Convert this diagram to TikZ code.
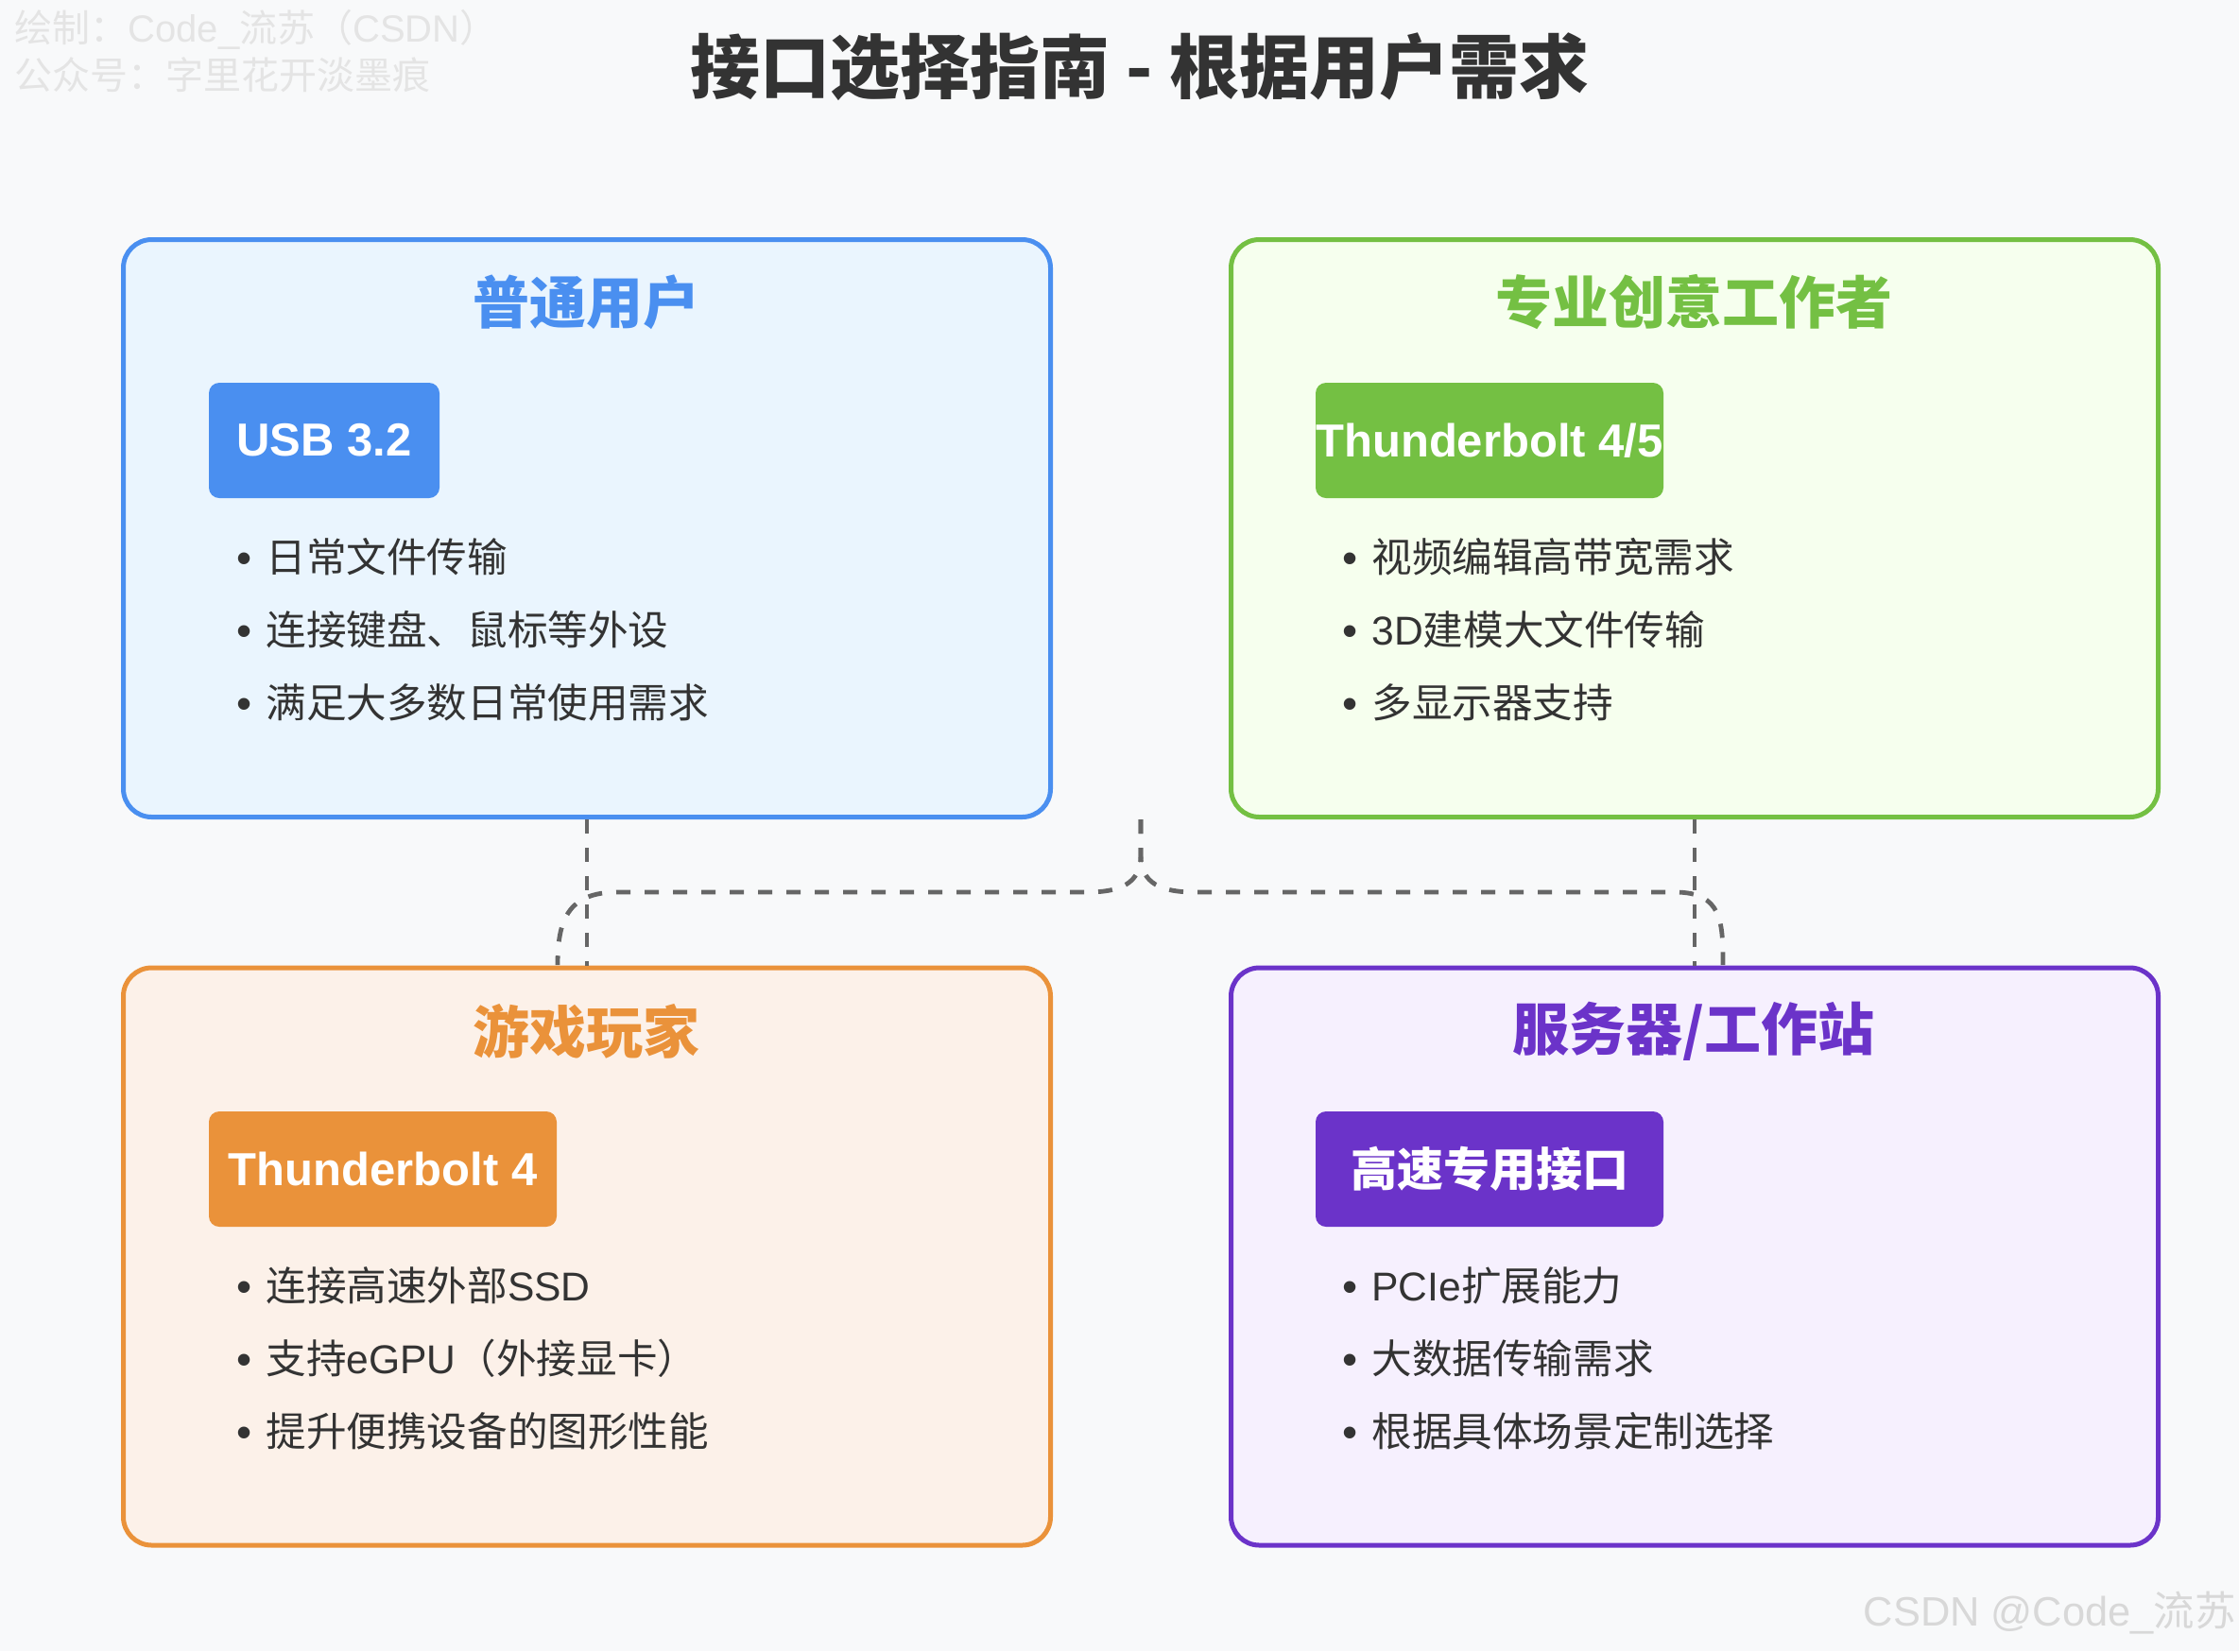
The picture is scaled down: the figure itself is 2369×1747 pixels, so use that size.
\documentclass[tikz,border=0pt]{standalone}
\usepackage{fontspec}
\setmainfont{Noto Sans CJK SC}
\newfontfamily\latf{Liberation Sans}
\definecolor{bg}{HTML}{F8F9FA}
\definecolor{txt}{HTML}{333333}
\definecolor{linkc}{HTML}{666666}
\definecolor{wm}{HTML}{E4E4E4}
\definecolor{wm2}{HTML}{D8D8D8}
\definecolor{cblue}{HTML}{4A8FF0}
\definecolor{fblue}{HTML}{EAF5FE}
\definecolor{cgreen}{HTML}{74C043}
\definecolor{fgreen}{HTML}{F6FFEE}
\definecolor{corange}{HTML}{EA923A}
\definecolor{forange}{HTML}{FCF1E9}
\definecolor{cpurple}{HTML}{6B33C9}
\definecolor{fpurple}{HTML}{F6F0FE}
\tikzset{
  panel/.style={draw, line width=2.5pt, rounded corners=15pt, minimum width=490.5pt, minimum height=305.5pt, inner sep=0pt},
  ptitle/.style={font=\bfseries\fontsize{30}{34}\selectfont, inner sep=0pt},
  badge/.style={rounded corners=5.5pt, minimum height=61pt, text=white, inner sep=0pt, font=\latf\bfseries\fontsize{24.5}{28}\selectfont},
  badgecjk/.style={badge, font=\bfseries\fontsize{24.5}{28}\selectfont},
  bul/.style={inner sep=0pt, text=txt, font=\latf\fontsize{23}{25}\selectfont},
  item/.style={anchor=west, inner sep=0pt, text=txt, font=\fontsize{21.3}{25}\selectfont},
  link/.style={draw=linkc, line width=2.4pt, dash pattern=on 7.5pt off 7.5pt},
}
\begin{document}
\begin{tikzpicture}[x=0.5pt,y=-0.5pt]
\useasboundingbox (0,0) rectangle (2369,1747);
\fill[bg] (0,0) rectangle (2369,1747);

% watermarks
\node[anchor=west, inner sep=0pt, text=wm, font=\fontsize{20}{22}\selectfont] (wm1) at (15,31) {绘制：{\latf Code\_}流苏（{\latf CSDN}）};
\node[anchor=west, inner sep=0pt, text=wm, font=\fontsize{20}{22}\selectfont] (wm2) at (15,79) {公众号：字里花开淡墨痕};
\node[anchor=east, inner sep=0pt, text=wm2, font=\fontsize{21.7}{24}\selectfont] (wm3) at (2366,1707) {{\latf CSDN @Code\_}流苏};

% title
\node[inner sep=0pt, text=txt, font=\bfseries\fontsize{37}{40}\selectfont] (title) at (1206,71) {接口选择指南 - 根据用户需求};

% panels
\node[panel, draw=cblue, fill=fblue] (A) at (621,559) {};
\node[panel, draw=cgreen, fill=fgreen] (B) at (1793,559) {};
\node[panel, draw=corange, fill=forange] (C) at (621,1329.5) {};
\node[panel, draw=cpurple, fill=fpurple] (D) at (1793,1329.5) {};

% connectors
\coordinate (m) at (1207,867);
\coordinate (cl) at (590,1021);
\coordinate (dr) at (1823,1021);
\draw[link] (A.south) -- (C.north);
\draw[link] (B.south) -- (D.north);
\draw[link] (m) -- (1207,905) .. controls (1207,935) and (1185,944) .. (1150,944) -- (653,944) .. controls (600,944) and (590,975) .. (cl);
\draw[link] (m) -- (1207,905) .. controls (1207,935) and (1229,944) .. (1264,944) -- (1772,944) .. controls (1822,944) and (1823,975) .. (dr);

% panel titles
\node[ptitle, text=cblue] (tA) at (620,320) {普通用户};
\node[ptitle, text=cgreen] (tB) at (1792,320) {专业创意工作者};
\node[ptitle, text=corange] (tC) at (620,1091) {游戏玩家};
\node[ptitle, text=cpurple] (tD) at (1792,1091) {服务器/工作站};

% badges
\node[badge, fill=cblue, minimum width=122pt] (bA) at (343,466) {USB 3.2};
\node[badge, fill=cgreen, minimum width=184pt] (bB) at (1576,466) {Thunderbolt 4/5};
\node[badge, fill=corange, minimum width=184pt] (bC) at (405,1237) {Thunderbolt 4};
\node[badgecjk, fill=cpurple, minimum width=184pt] (bD) at (1576,1237) {高速专用接口};

% items A
\node[bul] (a1b) at (259,596) {•};
\node[item] (a1) at (281,589) {日常文件传输};
\node[bul] (a2b) at (259,673) {•};
\node[item] (a2) at (281,666) {连接键盘、鼠标等外设};
\node[bul] (a3b) at (259,750) {•};
\node[item] (a3) at (281,743) {满足大多数日常使用需求};

% items B
\node[bul] (b1b) at (1429,596) {•};
\node[item] (b1) at (1451,589) {视频编辑高带宽需求};
\node[bul] (b2b) at (1429,673) {•};
\node[item] (b2) at (1451,666) {{\latf 3D}建模大文件传输};
\node[bul] (b3b) at (1429,750) {•};
\node[item] (b3) at (1451,743) {多显示器支持};

% items C
\node[bul] (c1b) at (259,1367) {•};
\node[item] (c1) at (281,1360) {连接高速外部{\latf SSD}};
\node[bul] (c2b) at (259,1444) {•};
\node[item] (c2) at (281,1437) {支持{\latf eGPU}（外接显卡）};
\node[bul] (c3b) at (259,1521) {•};
\node[item] (c3) at (281,1514) {提升便携设备的图形性能};

% items D
\node[bul] (d1b) at (1429,1367) {•};
\node[item] (d1) at (1451,1360) {{\latf PCIe}扩展能力};
\node[bul] (d2b) at (1429,1444) {•};
\node[item] (d2) at (1451,1437) {大数据传输需求};
\node[bul] (d3b) at (1429,1521) {•};
\node[item] (d3) at (1451,1514) {根据具体场景定制选择};
\end{tikzpicture}
\end{document}
